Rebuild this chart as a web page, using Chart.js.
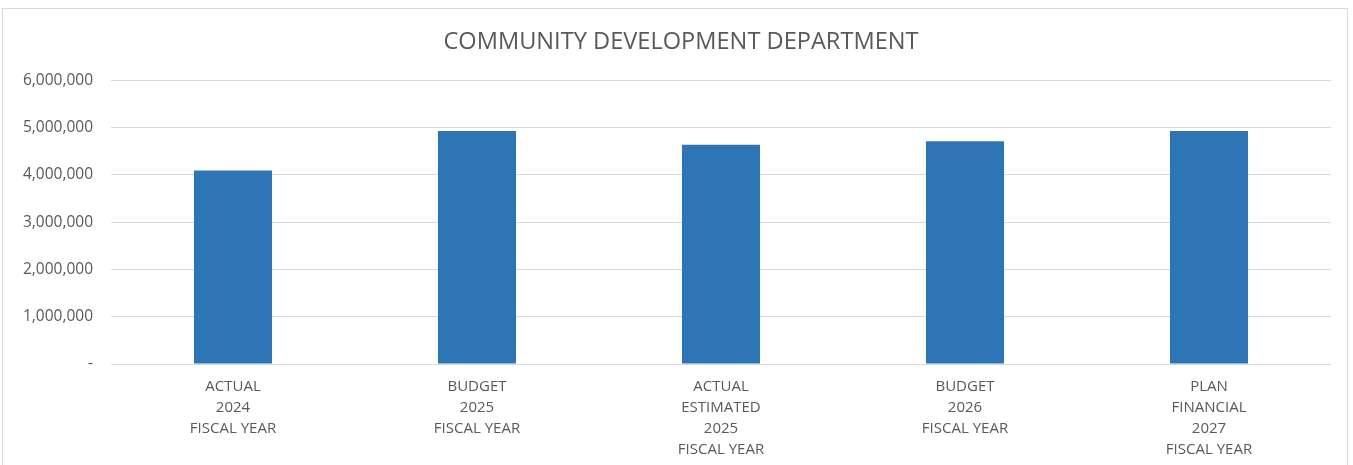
<!DOCTYPE html>
<html>
<head>
<meta charset="utf-8">
<title>Community Development Department</title>
<script src="https://cdn.jsdelivr.net/npm/chart.js@4/dist/chart.umd.min.js"></script>
<style>
  html, body { margin: 0; padding: 0; background: #ffffff; overflow: hidden; }
  #frame {
    position: absolute; left: 2px; top: 8px;
    width: 1344px; height: 456px;
    border: 1px solid #d9d9d9; border-bottom: none;
  }
  canvas { display: block; }
</style>
</head>
<body>
<div id="frame"><canvas id="chart" width="1344" height="456"></canvas></div>
<script>
// Department totals by fiscal period
const categories = [
  ['ACTUAL', '2024', 'FISCAL YEAR'],
  ['BUDGET', '2025', 'FISCAL YEAR'],
  ['ACTUAL', 'ESTIMATED', '2025', 'FISCAL YEAR'],
  ['BUDGET', '2026', 'FISCAL YEAR'],
  ['PLAN', 'FINANCIAL', '2027', 'FISCAL YEAR']
];
const totals = [4090000, 4930000, 4635000, 4710000, 4930000];
const yTicks = [0, 1000000, 2000000, 3000000, 4000000, 5000000, 6000000];

const textColor = '#595959';
const gridColor = '#d9d9d9';
const fontFamily = "'Open Sans', 'Liberation Sans', sans-serif";

Chart.defaults.font.family = fontFamily;
Chart.defaults.color = textColor;

// Centre the title over the whole frame rather than the padded box
const titleShift = {
  id: 'titleShift',
  afterLayout(chart) {
    const t = chart.titleBlock;
    if (t) { t.left += 14; t.right += 14; }
  }
};

new Chart(document.getElementById('chart'), {
  type: 'bar',
  data: {
    labels: categories,
    datasets: [{
      data: totals,
      backgroundColor: '#2E75B6',
      borderWidth: 0,
      categoryPercentage: 1,
      barPercentage: 0.32
    }]
  },
  plugins: [titleShift],
  options: {
    responsive: false,
    animation: false,
    layout: { padding: { left: 0, right: 16, top: 0, bottom: 0 } },
    plugins: {
      legend: { display: false },
      tooltip: { enabled: false },
      title: {
        display: true,
        text: 'COMMUNITY DEVELOPMENT DEPARTMENT',
        color: textColor,
        font: { size: 23.6, weight: 'normal', lineHeight: 1.2 },
        padding: { top: 19, bottom: 24 }
      }
    },
    scales: {
      x: {
        grid: { display: false },
        border: { display: false },
        ticks: {
          color: textColor,
          font: { size: 15, lineHeight: 21 / 15 },
          padding: 4.5,
          maxRotation: 0,
          autoSkip: false
        },
        afterFit(scale) { scale.height = 101; }
      },
      y: {
        min: 0,
        max: 6000000,
        afterBuildTicks(scale) { scale.ticks = yTicks.map(v => ({ value: v })); },
        grid: { color: gridColor, lineWidth: 1, drawTicks: false },
        border: { display: false },
        ticks: {
          color: textColor,
          font: { size: 15.5 },
          padding: 18,
          callback(v) { return v === 0 ? '-' : v.toLocaleString('en-US'); }
        },
        afterFit(scale) { scale.width = 108; }
      }
    }
  }
});
</script>
</body>
</html>
